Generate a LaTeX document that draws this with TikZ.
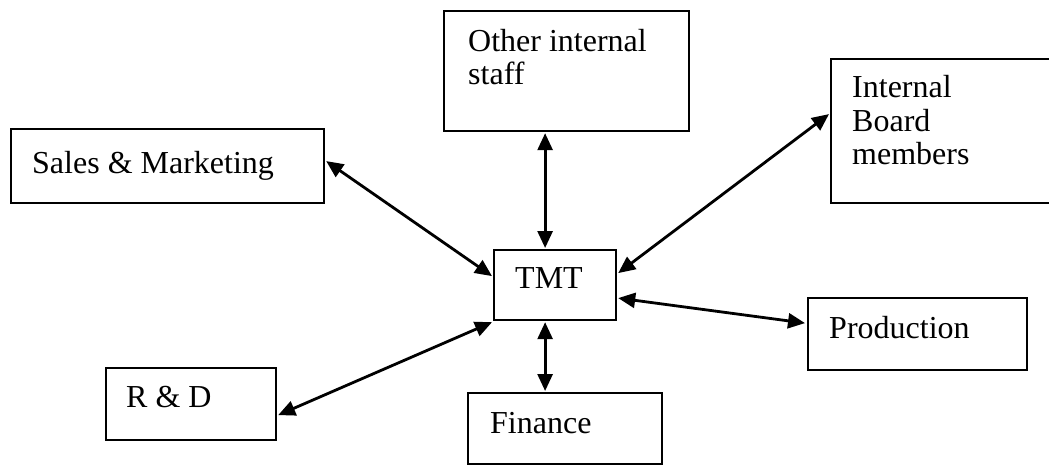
\documentclass[tikz,border=0pt]{standalone}
\usepackage{fontspec}
\setmainfont{Liberation Serif}
\usetikzlibrary{arrows.meta,calc}
\begin{document}
\begin{tikzpicture}[x=1pt,y=-1pt,
  box/.style={draw=black, line width=2.2pt, inner sep=0pt, anchor=north west},
  txt/.style={anchor=base west, inner sep=0pt, align=left,
    font=\fontsize{32}{33.5}\selectfont},
  link/.style={line width=2.8pt,
    {Triangle[length=17pt,width=15pt]}-{Triangle[length=17pt,width=15pt]}}]
\useasboundingbox (0,0) rectangle (1049,465);

% departments around the top management team
\node[box, minimum width=313pt, minimum height=74pt]  (sales) at (10,128) {};
\node[box, minimum width=245pt, minimum height=120pt] (other) at (443,10) {};
\node[box, minimum width=225pt, minimum height=144pt] (board) at (830,58) {};
\node[box, minimum width=122pt, minimum height=70pt]  (tmt)   at (493,249) {};
\node[box, minimum width=219pt, minimum height=72pt]  (prod)  at (807,297) {};
\node[box, minimum width=170pt, minimum height=72pt]  (rd)    at (105,367) {};
\node[box, minimum width=194pt, minimum height=71pt]  (fin)   at (467,392) {};

% box captions (base anchor sits on the last line)
\node[txt] (salesT) at ($(sales.north west)+(22,46)$) {Sales \& Marketing};
\node[txt] (otherT) at ($(other.north west)+(25,75)$) {Other internal\\staff};
\node[txt] (boardT) at ($(board.north west)+(22,107)$) {Internal\\Board\\members};
\node[txt] (tmtT)   at ($(tmt.north west)+(22,39)$)   {TMT};
\node[txt] (prodT)  at ($(prod.north west)+(22,41)$)  {Production};
\node[txt] (rdT)    at ($(rd.north west)+(21,40)$)    {R \& D};
\node[txt] (finT)   at ($(fin.north west)+(23,41)$)   {Finance};

% two-way links
\draw[link] ($(sales.east)+(1,-5)$) -- ($(tmt.west)+(-1,-9)$);
\draw[link] ($(other.south)+(-21.5,1)$) -- ($(tmt.north)+(-10,-1)$);
\draw[link] ($(board.west)+(-1,-17)$) -- ($(tmt.east)+(1,-12)$);
\draw[link] ($(tmt.east)+(1,13)$) -- ($(prod.west)+(-2,-11)$);
\draw[link] ($(tmt.south west)+(-1,1)$) -- ($(rd.east)+(1,11)$);
\draw[link] ($(tmt.south)+(-10,1)$) -- ($(fin.north)+(-20,-1)$);
\end{tikzpicture}
\end{document}
